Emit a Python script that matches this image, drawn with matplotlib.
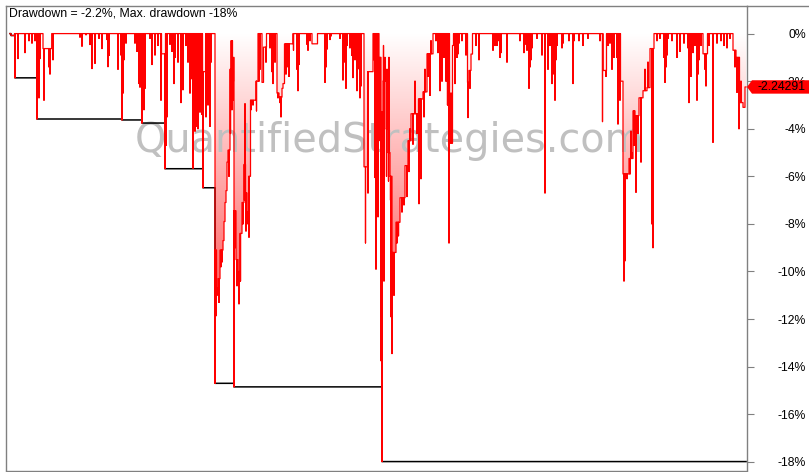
"""Drawdown chart (AmiBroker style) with max drawdown step line."""

import numpy as np
import matplotlib
matplotlib.use('Agg')
import matplotlib.pyplot as plt
import matplotlib.transforms as mtransforms
from matplotlib.colors import LinearSegmentedColormap
from matplotlib.patches import Polygon
from matplotlib.lines import Line2D

plt.rcParams['font.family'] = ['Liberation Sans', 'DejaVu Sans']

W, H = 809, 472

first_bar, last_bar = 10, 746

# resting drawdown level (%), changes at these bars
level_x = [11, 14.5, 43, 51.7, 161.5, 165.5, 202.5, 205.8,
           215, 216.5, 218, 220, 223, 224, 225, 226, 227, 228, 230, 231, 232.5, 233.5,
           234, 236, 238, 240, 242, 244, 245.5, 247, 249, 250.5, 256, 258,
           262, 263.5, 266.5, 277, 279, 282, 283, 284.5, 293, 312, 317.5,
           364, 368, 373, 379, 381, 383, 386, 388, 390, 392, 396, 400, 405, 408, 411,
           418.5, 423, 427, 433, 449.5, 452.5, 453.5, 467.5, 469, 471, 472.5,
           603, 606.5, 620.5, 623, 629, 633, 635, 639, 643, 647, 650, 654,
           703, 707.5, 733, 736, 739.5, 743, 745]
level_v = [-0.08, 0.0, -0.63, 0.0, -0.85, 0.0, -1.6, 0.0,
           -9.1, -10.7, -10.3, -9.1, -8.7, -7.9, -7.1, -6.6, -5.4, -4.9, -1.5, -0.3, -2.0, -1.0,
           -7.45, -9.5, -10.0, -8.4, -7.1, -5.5, -6.7, -7.5, -6.0, -2.8, -2.0, 0.0,
           -2.05, -0.57, 0.0, -2.5, -2.67, -2.3, -2.1, -0.43, 0.0, -0.43, 0.0,
           -5.6, -1.6, 0.0, -1.0, -3.3, -2.0, -4.0, -5.0, -6.0, -9.2, -7.93, -6.9, -5.55, -4.5, -3.37,
           -2.75, -2.45, -0.85, 0.0, -4.6, -0.5, 0.0, -2.05, -1.55, -0.86, 0.0,
           -1.55, 0.0, -2.0, -5.9, -5.25, -3.25, -3.45, -2.7, -2.4, -2.27, -0.63, 0.0,
           -0.85, 0.0, -0.7, -1.0, -2.9, -3.1, -2.24291]

# single-bar drawdown spikes (%)
spike_x = [15, 18, 25, 29, 32, 35, 36, 37, 38, 39, 40, 44, 49, 50, 53,
           80, 82, 86, 90, 92, 95, 99, 102, 107, 108, 109, 118, 121, 122, 123, 124, 126,
           135, 137, 139, 140, 141, 142, 143, 144, 145, 150, 152, 155, 158, 161,
           165, 166, 167, 170, 172, 174, 175, 178, 181, 183, 186, 188, 190, 191, 192,
           193, 195, 196, 197, 198, 199, 200, 201, 202, 203, 206, 207, 208, 209, 210, 211,
           215, 216, 217, 219, 221, 222, 229, 230.5, 231.5, 232, 233, 234, 235, 237, 239,
           240.5, 243, 244.5, 245, 246, 247.5, 248, 249, 251, 253, 256.5,
           259, 260, 266, 270, 272, 273, 275, 278, 280, 281, 286, 287, 288, 289, 293.5,
           297, 298, 299,
           307, 308, 310, 325, 326, 327, 330, 331, 340, 343, 344, 346, 347, 350, 352, 353,
           355, 357, 359, 360, 361,
           365.5, 368, 374, 375, 376, 377, 378, 380, 381, 382, 383.5, 384, 385, 386.5, 387,
           388.5, 389, 390.5, 391, 392, 393, 394,
           397, 398.5, 402, 404, 407, 409, 410, 413, 415, 417, 419, 420, 421, 424, 425, 428,
           430, 431,
           436, 438, 440, 441, 442, 443, 445, 446, 447.5, 449, 451, 452, 455, 457, 458, 459,
           462, 466, 468, 470, 476, 479,
           493, 495, 497, 498, 500, 501, 507, 520, 524, 525, 527, 528, 529, 530, 531, 532,
           537, 542, 545, 548, 550, 552, 553, 554, 555, 556, 557, 562, 563, 569, 573, 574,
           579, 583, 588,
           600, 602.5, 606, 608, 610, 612, 614, 617, 618, 619, 620, 624, 625, 627, 630, 631,
           632, 634, 636, 638, 641, 645, 648, 652, 653,
           657, 660, 664, 665, 666, 667, 668, 672, 677, 680, 684, 688, 689, 690, 691, 693,
           695, 697, 698, 699, 701, 705, 706, 709, 713, 717, 721, 724, 727, 730, 735, 737,
           739, 741]
spike_v = [-1.86, -1.05, -0.8, -0.3, -0.4, -0.3, -0.15, -3.59, -2.35, -2.7, -1.05, -2.8, -1.4, -1.7, -1.1,
           -0.15, -0.53, -0.05, -0.46, -1.47, -1.25, -0.2, -0.63, -0.25, -1.39, -0.92, -1.5, -0.9, -3.63, -2.5, -1.1, -0.4,
           -0.4, -0.75, -2.1, -2.25, -1.3, -3.76, -1.8, -3.2, -2.3, -0.2, -1.3, -0.9, -0.5, -2.8,
           -5.68, -4.7, -3.5, -0.45, -0.75, -2.1, -1.0, -1.2, -2.9, -2.36, -0.5, -1.2, -2.5, -1.9, -1.3,
           -5.66, -4.1, -3.9, -2.9, -4.0, -2.1, -3.3, -2.6, -3.4, -6.48, -3.5, -2.0, -3.0, -1.5, -3.9, -1.2,
           -14.7, -11.86, -11.0, -11.3, -9.8, -9.6, -6.0, -4.2, -2.5, -3.2, -2.8, -14.85, -9.0, -10.6, -11.36,
           -10.4, -8.0, -7.0, -2.95, -8.3, -7.8, -8.0, -8.56, -3.2, -3.0, -3.25,
           -2.0, -1.5, -1.2, -0.6, -1.6, -2.1, -1.2, -2.7, -2.9, -3.5, -1.7, -0.9, -1.4, -1.8, -0.7,
           -1.5, -2.4, -1.3,
           -0.45, -0.7, -0.3, -2.05, -1.4, -0.65, -0.25, -0.1, -0.2, -1.95, -1.2, -2.3, -0.5, -0.6, -0.92, -1.85,
           -1.1, -2.4, -1.48, -2.7, -2.2,
           -8.8, -6.7, -1.1, -6.05, -9.9, -6.7, -7.7, -4.5, -13.75, -17.99, -0.5, -10.4, -1.0, -6.0, -1.5,
           -6.2, -1.0, -7.0, -11.9, -13.45, -10.0, -11.0,
           -8.8, -8.5, -7.5, -7.2, -6.85, -5.8, -4.0, -4.65, -2.0, -4.2, -7.15, -3.0, -6.1, -3.5, -1.5, -1.8,
           -2.6, -0.3,
           -0.3, -0.8, -2.4, -1.5, -2.0, -1.0, -1.0, -2.0, -3.0, -8.8, -2.5, -3.7, -2.1, -1.0, -0.85, -0.4,
           -0.3, -0.9, -3.53, -2.3, -0.5, -1.1,
           -0.7, -0.5, -0.5, -0.3, -1.0, -0.8, -1.2, -0.3, -0.8, -0.45, -0.7, -0.3, -2.3, -1.4, -1.1, -0.6,
           -0.2, -0.9, -6.7, -1.5, -0.5, -2.1, -0.6, -1.7, -2.8, -1.1, -0.5, -0.6, -0.4, -0.3, -2.1, -0.3,
           -0.3, -0.5, -0.2,
           -0.3, -3.7, -1.8, -0.5, -0.4, -1.5, -1.0, -1.0, -3.8, -2.0, -2.8, -10.4, -9.55, -6.1, -5.9, -4.1,
           -5.0, -4.7, -6.67, -4.2, -5.4, -1.5, -1.2, -8.0, -9.0,
           -0.3, -0.2, -1.0, -2.05, -1.4, -0.9, -0.2, -0.3, -1.0, -0.75, -0.4, -0.6, -2.9, -0.3, -1.8, -0.8,
           -0.5, -2.8, -1.7, -1.1, -0.5, -1.5, -2.2, -0.5, -4.57, -0.4, -0.3, -0.5, -0.6, -0.2, -1.4, -2.47,
           -4.0, -2.0]

yticks = [0, -2, -4, -6, -8, -10, -12, -14, -16, -18]
xticks = [57, 176, 295, 413, 532, 650]


def build_curve():
    events = [(x, 0, v) for x, v in zip(level_x, level_v)]
    events += [(x, 1, v) for x, v in zip(spike_x, spike_v)]
    events.sort()
    xs, ys = [first_bar], [0.0]
    cur = 0.0
    for x, kind, v in events:
        if kind == 0:
            xs += [x, x]
            ys += [cur, v]
            cur = v
        else:
            xs += [x, x, x]
            ys += [cur, v, cur]
    xs.append(last_bar)
    ys.append(cur)
    return np.array(xs, dtype=float), np.array(ys, dtype=float)


xs, dd = build_curve()
max_dd = np.minimum.accumulate(dd)

fig = plt.figure(figsize=(W / 100, H / 100), dpi=100)
ax = fig.add_axes([5.5 / W, 1.5 / H, 741.5 / W, 464.5 / H])

# gradient fill under the drawdown curve
cmap = LinearSegmentedColormap.from_list('dd', ['#ffffff', '#ff0000'])
grad = np.linspace(0, 1, 256).reshape(-1, 1)
im = ax.imshow(grad, cmap=cmap, extent=(first_bar, last_bar, -18.0, 0.0),
               aspect='auto', origin='upper', interpolation='bilinear', zorder=1)
poly = ax.fill_between(xs, dd, 0, facecolor='none', edgecolor='none')
im.set_clip_path(poly.get_paths()[0], transform=ax.transData)

ax.text(389 / W, 1 - 152 / H, 'QuantifiedStrategies.com', transform=fig.transFigure,
        ha='center', va='baseline', fontsize=28.6, family='DejaVu Sans',
        color='#c0c0c0', zorder=2)

ax.plot(xs, max_dd, color='black', lw=1.1, zorder=3)
ax.plot(xs, dd, color='#ff0000', lw=0.9, zorder=4)

ax.set_xlim(5.5, 747)
ax.set_ylim(-18.365, 1.16)

for loc in ['bottom', 'top', 'left', 'right']:
    ax.spines[loc].set_color('#808080')
    ax.spines[loc].set_linewidth(1)

ax.yaxis.tick_right()
ax.set_yticks(yticks)
ax.set_yticklabels(['{:.0f}%'.format(v) for v in yticks])
ax.tick_params(axis='y', length=5, color='#808080', pad=37.4, labelsize=8.8,
               labelcolor='black')
for lbl in ax.get_yticklabels():
    lbl.set_horizontalalignment('right')
ax.set_xticks(xticks)
ax.tick_params(axis='x', length=3, color='#808080', labelbottom=False)

# top border continues over the value-axis area
fig.add_artist(Line2D([747 / W, 1], [1 - 6 / H, 1 - 6 / H], color='#808080', lw=1))

cur = dd[-1]
title = 'Drawdown = {:.1f}%, Max. drawdown {:.0f}%'.format(cur, max_dd.min())
ax.text(9 / W, 1 - 14 / H, title, transform=fig.transFigure, ha='left', va='center',
        fontsize=8.8, color='black')

# current value marker on the right axis
blend = mtransforms.blended_transform_factory(fig.transFigure, ax.transData)
h = 6.7 / 23.79
pts = [(747 / W, cur), (752 / W, cur + h), (809 / W, cur + h),
       (809 / W, cur - h), (752 / W, cur - h)]
ax.add_patch(Polygon(pts, closed=True, transform=blend, facecolor='#ff0000',
                     edgecolor='none', clip_on=False, zorder=6))
ax.text(805 / W, cur, '{:.5f}'.format(cur), transform=blend, ha='right', va='center',
        fontsize=8.8, color='black', clip_on=False, zorder=7)

plt.savefig('out.png', dpi=100)
